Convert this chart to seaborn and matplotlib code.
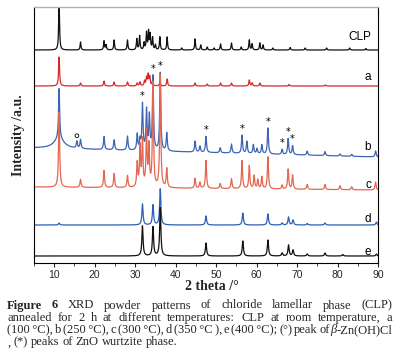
import numpy as np
import pandas as pd
import seaborn as sns
import matplotlib
matplotlib.use('Agg')
from matplotlib import pyplot as plt

# ---- data ---------------------------------------------------------------
SAMPLES = ['CLP', 'a', 'b', 'c', 'd', 'e']
COLORS = {'CLP': '#111111', 'a': '#d8282a', 'b': '#3f64b4',
          'c': '#e5664f', 'd': '#2c5fb3', 'e': '#111111'}
# vertical offset of each trace at 5 deg and at 90 deg
BASE_START = [213, 177, 115, 76, 38, 7]
BASE_END = [213, 177, 106, 73, 38, 7]
FWHM = [0.25, 0.28, 0.32, 0.32, 0.35, 0.35]

CLP_POS = [11.2, 16.5, 22.3, 22.8, 24.8, 28.1, 30.4, 31.1, 32.2, 32.8, 33.3, 33.7,
           34.3, 35.0, 36.1, 37.9, 41.5, 44.8, 46.2, 47.8, 49.5, 51.1, 53.8, 56.2,
           58.2, 58.9, 60.8, 61.6, 64.0, 68.3, 72.0, 77.3, 83.0, 87.0]
CLP_HT = [50, 8, 9, 5, 10, 10, 11, 14, 7, 17, 18, 15,
          12, 5, 13, 13, 2, 11, 5, 3, 2, 6, 7, 3,
          10, 6, 7, 5, 2, 2.5, 2, 2, 2, 1.5]

A_POS = [11.2, 16.5, 22.3, 24.8, 28.1, 30.5, 31.2, 32.3, 32.8, 33.2, 33.6, 34.3,
         36.1, 37.9, 44.8, 47.8, 51.1, 53.8, 58.2, 58.9, 60.8, 68.0, 77.0]
A_HT = [29, 3, 5, 4, 4, 3, 4, 5, 8, 11, 9, 5,
        4, 7, 3, 2, 3, 3, 6, 3, 3, 1.5, 1]

B_POS = [11.2, 11.2, 15.6, 16.5, 22.3, 24.8, 28.1, 30.5, 31.2, 31.8, 32.8, 33.5,
         34.4, 36.2, 37.8, 44.8, 46.0, 47.5, 51.0, 53.8, 56.4, 57.6, 59.2, 60.1,
         61.3, 62.8, 66.3, 67.8, 68.9, 72.5, 76.9, 80.6, 83.5, 89.4]
B_HT = [50, 10, 7, 9, 13, 10, 14, 16, 10, 46, 40, 34,
        74, 78, 18, 11, 6, 16, 5, 9, 18, 12, 9, 5,
        9, 26, 5, 16, 9, 4, 4, 2, 2, 6]
B_WIDTH = [None, 3.0]  # second 11.2 entry is the broad hump under the peak

C_POS = [11.2, 16.5, 22.3, 24.8, 28.1, 30.5, 31.2, 31.8, 32.8, 33.4, 34.4, 36.2,
         37.8, 44.8, 46.0, 47.5, 51.0, 53.8, 56.4, 58.2, 59.4, 60.3, 61.3, 62.8,
         66.3, 67.8, 68.9, 72.5, 76.9, 80.6, 83.5, 89.4]
C_HT = [75, 8, 17, 14, 12, 24, 40, 46, 54, 40, 104, 112,
        19, 10, 6, 28, 5, 10, 28, 23, 13, 9, 12, 32,
        4, 20, 14, 5, 5, 4, 3, 8]

D_POS = [11.2, 31.8, 34.4, 36.2, 47.5, 56.6, 62.8, 66.3, 67.9, 69.0, 72.5, 76.9, 89.6]
D_HT = [2, 21, 20, 36, 9, 12, 11, 2, 8, 5, 1.5, 2, 3]

E_POS = [31.8, 34.4, 36.2, 47.5, 56.6, 62.8, 66.3, 67.9, 69.0, 72.5, 76.9, 81.3, 89.6]
E_HT = [30, 29, 48, 13, 15, 16, 3, 11, 6, 2, 3, 1.5, 2]

PEAKS = {'CLP': (CLP_POS, CLP_HT), 'a': (A_POS, A_HT), 'b': (B_POS, B_HT),
         'c': (C_POS, C_HT), 'd': (D_POS, D_HT), 'e': (E_POS, E_HT)}

STAR_POS = [31.8, 34.4, 36.2, 47.5, 56.4, 62.8, 66.3, 67.8, 68.9]
CIRCLE_POS = [15.6]
LABEL_Y = [226, 186, 116, 78, 44, 11]

XTICKS = [10, 20, 30, 40, 50, 60, 70, 80, 90]

CAPTION_LINES = [
    'Figure 6 XRD powder patterns of chloride lamellar phase (CLP)',
    'annealed for 2 h at different temperatures: CLP at room temperature, a',
    '(100\u2009°C), b (250\u2009°C), c (300\u2009°C), d (350\u2009°C\u2009), e (400\u2009°C); (°) peak ofβ-Zn(OH)Cl',
    ', (*) peaks of ZnO wurtzite phase.',
]

# ---- build traces ---------------------------------------------------------
two_theta = np.arange(5, 90.001, 0.02)


def lorentz(x, x0, h, w):
    return h / (1 + ((x - x0) / (w / 2)) ** 2)


frames = []
traces = {}
for i, name in enumerate(SAMPLES):
    pos, ht = PEAKS[name]
    base = BASE_START[i] + (BASE_END[i] - BASE_START[i]) * (two_theta - 5) / 85
    y = base.copy()
    for k, (p, h) in enumerate(zip(pos, ht)):
        w = FWHM[i]
        if name == 'b' and k < len(B_WIDTH) and B_WIDTH[k]:
            w = B_WIDTH[k]
        y += lorentz(two_theta, p, h, w)
    traces[name] = y
    frames.append(pd.DataFrame({'two_theta': two_theta, 'intensity': y, 'sample': name}))
df = pd.concat(frames, ignore_index=True)

# ---- plot -----------------------------------------------------------------
sns.set_style('ticks')
plt.rcParams['font.family'] = ['Liberation Sans', 'DejaVu Sans']

fig = plt.figure(figsize=(3.95, 3.59), dpi=100)
ax = fig.add_axes([34 / 395, 1 - 263 / 359, 344 / 395, 256 / 359])

sns.lineplot(data=df, x='two_theta', y='intensity', hue='sample', hue_order=SAMPLES,
             palette=COLORS, sort=False, estimator=None, legend=False,
             linewidth=0.9, ax=ax)

ax.set_xlim(5, 90)
ax.set_ylim(0, 256)
ax.set_yticks([])
ax.set_xticks(XTICKS)
ax.set_xticks(range(5, 91, 5), minor=True)
ax.tick_params(axis='x', which='major', direction='out', length=3, width=0.8,
               labelsize=7.5, pad=2)
ax.tick_params(axis='x', which='minor', direction='out', length=1.8, width=0.6)
ax.set_xlabel('')
ax.set_ylabel('')
for side in ['left', 'right', 'bottom']:
    ax.spines[side].set_visible(True)
    ax.spines[side].set_color('black')
    ax.spines[side].set_linewidth(0.8)
ax.spines['top'].set_visible(True)
ax.spines['top'].set_color('#b0b0b0')
ax.spines['top'].set_linewidth(1.0)

# ZnO / beta-Zn(OH)Cl markers on trace b
yb = traces['b']
for p in STAR_POS:
    m = (two_theta > p - 0.3) & (two_theta < p + 0.3)
    ax.text(p, yb[m].max() + 1, '*', ha='center', va='bottom', fontsize=7,
            family='DejaVu Sans', color='black')
for p in CIRCLE_POS:
    m = (two_theta > p - 0.3) & (two_theta < p + 0.3)
    ax.scatter([p], [yb[m].max() + 5], s=7, facecolors='none', edgecolors='black',
               linewidths=0.6, zorder=5)

for name, ly in zip(SAMPLES, LABEL_Y):
    ax.text(88.3, ly, name, ha='right', va='center', fontsize=8.5, color='black')

fig.text(19 / 395, 1 - 135 / 359, 'Intensity /a.u.', rotation=90, ha='center',
         va='center', fontsize=10, fontweight='bold', family='Liberation Serif')
fig.text(212 / 395, 1 - 287 / 359, '2 theta /°', ha='center', va='center',
         fontsize=10, fontweight='bold', family='Liberation Serif')

# ---- justified caption ---------------------------------------------------
renderer = fig.canvas.get_renderer()
W, H = 395.0, 359.0
x_left, x_right = 7.0, 392.0
baselines = [308.5, 320.8, 333.1, 345.4]
CAP_SIZE = 9.0


def segments(word, line_no, word_no):
    if line_no == 0 and word_no < 2:
        return [(word, 'bold', 'normal')]
    if 'β' in word:
        a, b = word.split('β')
        return [(a, 'normal', 'normal'), ('β', 'normal', 'italic'), (b, 'normal', 'normal')]
    return [(word, 'normal', 'normal')]


def seg_width(text, weight, style, size):
    t = fig.text(0, 0, text, fontsize=size, fontweight=weight, fontstyle=style,
                 family=['Liberation Serif', 'DejaVu Serif'])
    w = t.get_window_extent(renderer).width
    t.remove()
    return w


avail = x_right - x_left
for li, line in enumerate(CAPTION_LINES):
    size = CAP_SIZE
    words = [segments(w, li, wi) for wi, w in enumerate(line.split(' '))]
    last = li == len(CAPTION_LINES) - 1
    for _ in range(20):
        space_w = seg_width('a a', 'normal', 'normal', size) - 2 * seg_width('a', 'normal', 'normal', size)
        widths = [[seg_width(t, wt, st, size) for t, wt, st in wd] for wd in words]
        total = sum(sum(w) for w in widths)
        if last or total + 0.55 * space_w * (len(words) - 1) <= avail:
            break
        size *= 0.98
    gap = space_w if last else (avail - total) / (len(words) - 1)
    x = x_left
    for wd, ws in zip(words, widths):
        for (text, weight, style), w in zip(wd, ws):
            fig.text(x / W, 1 - baselines[li] / H, text, fontsize=size,
                     fontweight=weight, fontstyle=style,
                     family=['Liberation Serif', 'DejaVu Serif'],
                     ha='left', va='baseline')
            x += w
        x += gap

fig.savefig('out.png', dpi=100)
